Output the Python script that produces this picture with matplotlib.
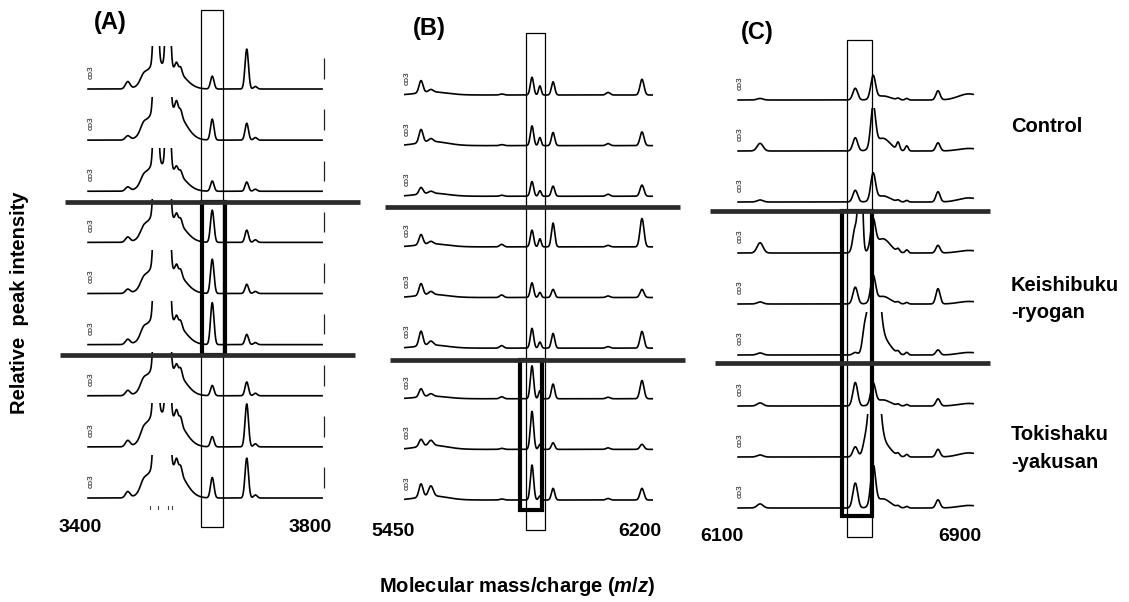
import numpy as np
import matplotlib
matplotlib.use("Agg")
import matplotlib.pyplot as plt
from matplotlib.patches import Rectangle

plt.rcParams['font.family'] = ['Liberation Sans', 'DejaVu Sans']
plt.rcParams['mathtext.fontset'] = 'custom'
plt.rcParams['mathtext.it'] = 'Liberation Sans:italic:bold'
plt.rcParams['mathtext.rm'] = 'Liberation Sans:bold'

# ---------------- data ----------------
group_labels = [["Control"], ["Keishibuku", "-ryogan"], ["Tokishaku", "-yakusan"]]
panel_names = ["(A)", "(B)", "(C)"]
scale_mark = "co3"

# Panel A  (m/z 3400-3800)
a_ticks = [3400, 3800]
a_range = [3414, 3821]
a_centers = [3483, 3510, 3532, 3553, 3530, 3565, 3568, 3575, 3542, 3630, 3690, 3705]
a_sigmas = [4, 5, 3, 3, 16, 18, 2.5, 2.5, 5, 3, 3, 3]
a_heights = [
    [0.14, 0.10, 3, 3, 0.45, 0.35, 0.15, 0.12, 0.0, 0.25, 0.78, 0.05],
    [0.08, 0.12, 3, 3, 0.50, 0.55, 0.20, 0.12, 0.5, 0.41, 0.33, 0.05],
    [0.08, 0.10, 3, 3, 0.50, 0.35, 0.12, 0.10, 0.0, 0.20, 0.18, 0.04],
    [0.10, 0.10, 3, 3, 0.50, 0.40, 0.15, 0.12, 1.0, 0.63, 0.24, 0.05],
    [0.08, 0.10, 3, 3, 0.50, 0.40, 0.15, 0.12, 1.0, 0.67, 0.18, 0.04],
    [0.10, 0.12, 3, 3, 0.50, 0.40, 0.15, 0.12, 1.0, 0.82, 0.20, 0.04],
    [0.10, 0.12, 3, 3, 0.50, 0.45, 0.15, 0.15, 1.0, 0.20, 0.27, 0.05],
    [0.12, 0.12, 3, 3, 0.60, 0.50, 0.20, 0.15, 0.0, 0.20, 0.84, 0.06],
    [0.12, 0.12, 3, 3, 0.55, 0.55, 0.20, 0.15, 1.0, 0.40, 0.78, 0.06],
]
a_box = [3610, 3649]
a_bold_box = [3612, 3652]

# Panel B  (m/z 5450-6200)
b_ticks = [5450, 6200]
b_range = [5486, 6237]
b_centers = [5535, 5565, 5570, 5872, 5896, 5936, 6103, 6206, 5780]
b_sigmas = [6, 7, 45, 5, 4, 5, 6, 6, 6]
b_heights = [
    [0.24, 0.05, 0.06, 0.35, 0.18, 0.26, 0.05, 0.31, 0.02],
    [0.26, 0.06, 0.08, 0.39, 0.16, 0.26, 0.04, 0.27, 0.02],
    [0.13, 0.04, 0.06, 0.29, 0.11, 0.20, 0.04, 0.22, 0.02],
    [0.20, 0.05, 0.06, 0.33, 0.16, 0.47, 0.03, 0.56, 0.05],
    [0.23, 0.06, 0.06, 0.29, 0.10, 0.16, 0.03, 0.16, 0.05],
    [0.29, 0.08, 0.06, 0.39, 0.12, 0.29, 0.03, 0.33, 0.05],
    [0.16, 0.05, 0.05, 0.65, 0.16, 0.29, 0.03, 0.36, 0.04],
    [0.14, 0.10, 0.08, 0.75, 0.10, 0.13, 0.03, 0.10, 0.02],
    [0.26, 0.20, 0.08, 0.69, 0.08, 0.23, 0.03, 0.23, 0.02],
]
b_box = [5853, 5912]
b_bold_box = [5836, 5902]

# Panel C  (m/z 6100-6900)
c_ticks = [6100, 6900]
c_range = [6154, 6944]
c_centers = [6228, 6548, 6580, 6565, 6608, 6612, 6640, 6692, 6721, 6826, 6930]
c_sigmas = [10, 8, 8, 6, 8, 14, 25, 5, 5, 7, 35]
c_heights = [
    [0.03, 0.23, 0.00, 0.0, 0.45, 0.0, 0.08, 0.03, 0.03, 0.18, 0.12],
    [0.15, 0.26, 0.00, 0.0, 0.80, 0.0, 0.25, 0.15, 0.10, 0.16, 0.05],
    [0.04, 0.23, 0.00, 0.0, 0.52, 0.0, 0.12, 0.03, 0.03, 0.20, 0.08],
    [0.20, 0.50, 0.00, 2.5, 0.55, 0.0, 0.28, 0.06, 0.06, 0.15, 0.05],
    [0.04, 0.33, 0.00, 0.0, 0.50, 0.0, 0.15, 0.03, 0.03, 0.30, 0.05],
    [0.04, 0.05, 0.46, 0.0, 0.00, 2.5, 0.32, 0.05, 0.05, 0.10, 0.05],
    [0.06, 0.46, 0.00, 0.0, 0.40, 0.0, 0.12, 0.03, 0.03, 0.14, 0.05],
    [0.04, 0.20, 0.20, 0.0, 0.00, 2.5, 0.28, 0.05, 0.05, 0.15, 0.08],
    [0.08, 0.49, 0.00, 0.0, 0.78, 0.0, 0.18, 0.03, 0.03, 0.16, 0.05],
]
c_box = [6520, 6604]
c_bold_box = [6503, 6604]

# ---------------- layout (pixels of the 1129x602 figure) ----------------
W, H = 1129, 602
fig = plt.figure(figsize=(W / 100, H / 100), dpi=100)

panels = [
    dict(ticks=a_ticks, rng=a_range, cen=a_centers, sig=a_sigmas, hts=a_heights,
         box=a_box, bold=a_bold_box, name=panel_names[0],
         l=55, r=362, t=4, b=518, tick_px=(80, 310), base_px=(89, 498),
         box_y=(9.55, -0.57), bold_y=(5.78, 2.80), seps=[(5.78, 65, 360), (2.80, 60, 355)],
         name_px=(110, 23), mark_px=91, edge_marks=True),
    dict(ticks=b_ticks, rng=b_range, cen=b_centers, sig=b_sigmas, hts=b_heights,
         box=b_box, bold=b_bold_box, name=panel_names[1],
         l=378, r=690, t=4, b=522, tick_px=(393, 640), base_px=(95, 500),
         box_y=(9.22, -0.59), bold_y=(2.77, -0.20), seps=[(5.79, 385, 680), (2.77, 390, 685)],
         name_px=(429, 28), mark_px=407, edge_marks=False),
    dict(ticks=c_ticks, rng=c_range, cen=c_centers, sig=c_sigmas, hts=c_heights,
         box=c_box, bold=c_bold_box, name=panel_names[2],
         l=700, r=1000, t=4, b=527, tick_px=(722, 960), base_px=(100, 508),
         box_y=(9.18, -0.57), bold_y=(5.82, -0.16), seps=[(5.82, 710, 990), (2.84, 715, 990)],
         name_px=(757, 32), mark_px=740, edge_marks=False),
]

CLIP = 0.85
SEP_COLOR = '#2b2b2b'

for p in panels:
    ax = fig.add_axes([p['l'] / W, 1 - p['b'] / H, (p['r'] - p['l']) / W, (p['b'] - p['t']) / H])
    t0, t1 = p['ticks']
    px0, px1 = p['tick_px']
    sc = (px1 - px0) / (t1 - t0)
    mz_of = lambda px: t0 + (px - px0) / sc
    ax.set_xlim(mz_of(p['l']), mz_of(p['r']))
    b0, b8 = p['base_px']
    s = (b8 - b0) / 8.0
    ax.set_ylim(8 - (p['b'] - b0) / s, 8 - (p['t'] - b0) / s)
    for sp in ax.spines.values():
        sp.set_visible(False)
    ax.set_yticks([])
    ax.set_xticks(p['ticks'], labels=[str(v) for v in p['ticks']],
                  fontsize=14, fontweight='bold')
    ax.tick_params(axis='x', length=0, pad=1)
    ax.patch.set_alpha(0)

    x = np.linspace(p['rng'][0], p['rng'][1], 2500)
    cen = np.array(p['cen'], float)
    sig = np.array(p['sig'], float)
    for i, hrow in enumerate(p['hts']):
        base = 8 - i
        h = np.array(hrow, float)
        y = (h[None, :] * np.exp(-0.5 * ((x[:, None] - cen[None, :]) / sig[None, :]) ** 2)).sum(axis=1)
        line, = ax.plot(x, base + y, color='black', lw=1.2, solid_joinstyle='round')
        clip = Rectangle((p['rng'][0] - 5, base - 0.5), p['rng'][1] - p['rng'][0] + 10, 0.5 + CLIP,
                         transform=ax.transData)
        line.set_clip_path(clip)
        ax.text(mz_of(p['mark_px']), base + 0.33, scale_mark, rotation=90, fontsize=6,
                ha='center', va='center', color='#111111')
        if p['edge_marks']:
            ax.vlines(mz_of(324), base + 0.2, base + 0.6, color='#222222', lw=0.9)

    # thin box
    bx0, bx1 = p['box']
    yt, yb = p['box_y']
    ax.add_patch(Rectangle((bx0, yb), bx1 - bx0, yt - yb, fill=False, ec='black', lw=0.9,
                           clip_on=False, zorder=3))
    # bold box
    gx0, gx1 = p['bold']
    gt, gb = p['bold_y']
    ax.add_patch(Rectangle((gx0, gb), gx1 - gx0, gt - gb, fill=False, ec='black', lw=3.0,
                           clip_on=False, zorder=4))
    # separators
    for ys, xl, xr in p['seps']:
        ax.plot([mz_of(xl), mz_of(xr)], [ys, ys], color=SEP_COLOR, lw=3.4,
                solid_capstyle='butt', zorder=5, clip_on=False)

    fig.text(p['name_px'][0] / W, 1 - p['name_px'][1] / H, p['name'], fontsize=17,
             fontweight='bold', ha='center', va='center')

# small tick dots under panel A
axA = fig.axes[0]
for mz in [3522, 3536, 3553, 3560]:
    axA.plot([mz, mz], [-0.22, -0.16], color='#444444', lw=0.8)

# group labels on the right
group_px = [[126], [285, 313], [435, 462]]
for lines, ys in zip(group_labels, group_px):
    for txt, yy in zip(lines, ys):
        fig.text(1011 / W, 1 - yy / H, txt, fontsize=14.5, fontweight='bold',
                 ha='left', va='center')

fig.text(20 / W, 1 - 303 / H, "Relative  peak intensity", rotation=90, fontsize=14.5,
         fontweight='bold', ha='center', va='center')
fig.text(517 / W, 1 - 586 / H, r"Molecular mass/charge ($m/z$)", fontsize=14.5,
         fontweight='bold', ha='center', va='center')

fig.savefig("out.png", dpi=100, facecolor='white')
